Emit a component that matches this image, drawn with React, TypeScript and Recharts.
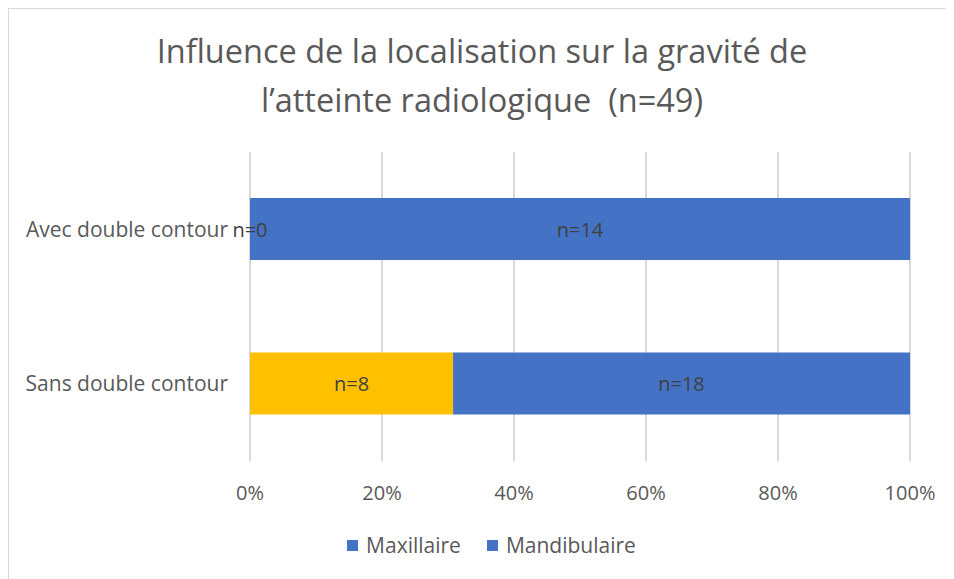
import { BarChart, Bar, XAxis, YAxis, CartesianGrid, Legend, LabelList } from 'recharts';

const categories = ['Avec double contour', 'Sans double contour'];
const maxillaire = [0, 8];
const mandibulaire = [14, 18];
const xTicks = [0, 0.2, 0.4, 0.6, 0.8, 1];

const ORANGE = '#FFC000';
const BLUE = '#4472C4';
const TEXT = '#595959';
const FONT = '"Open Sans", sans-serif';

const data = categories.map((name, i) => ({
  name,
  maxillaire: maxillaire[i],
  mandibulaire: mandibulaire[i],
}));

// la légende d'origine montre les deux carrés en bleu
const legendItems = ['Maxillaire', 'Mandibulaire'];

function ChartLegend() {
  return (
    <div style={{ display: 'flex', justifyContent: 'center', gap: 26, marginLeft: 44, fontFamily: FONT, fontSize: 21, lineHeight: '28px', color: TEXT }}>
      {legendItems.map(label => (
        <div key={label} style={{ display: 'flex', alignItems: 'center', gap: 8 }}>
          <span style={{ width: 11, height: 11, background: BLUE, display: 'inline-block' }} />
          <span>{label}</span>
        </div>
      ))}
    </div>
  );
}

function labelText(x: number, y: number, value: number, key?: string) {
  return (
    <text
      key={key}
      x={x}
      y={y}
      textAnchor="middle"
      dominantBaseline="central"
      fill="#404040"
      fontSize={20}
      fontFamily={FONT}
    >
      {`n=${value}`}
    </text>
  );
}

// étiquette "n=…" centrée sur le segment
function SegmentLabel(props: any) {
  const { x, y, width, height, value } = props;
  if (value === undefined || value === null) return null;
  return labelText(Number(x) + Number(width) / 2, Number(y) + Number(height) / 2, value);
}

// Recharts ne dessine pas les segments de largeur nulle : l'étiquette
// "n=0" du Maxillaire est donc placée au début du segment Mandibulaire
function MandibulaireLabel(props: any) {
  const { x, y, width, height, value, index } = props;
  if (value === undefined || value === null) return null;
  const cy = Number(y) + Number(height) / 2;
  return (
    <g>
      {maxillaire[index] === 0 && labelText(Number(x), cy, maxillaire[index], 'zero')}
      {labelText(Number(x) + Number(width) / 2, cy, value, 'main')}
    </g>
  );
}

export default function App() {
  return (
    <div style={{ position: 'relative', width: 946, height: 571, borderLeft: '1px solid #D9D9D9', borderTop: '1px solid #D9D9D9', background: '#fff' }}>
      <div style={{ position: 'absolute', top: 17, left: 0, width: 946, textAlign: 'center', fontFamily: FONT, fontSize: 32.5, color: TEXT, lineHeight: '49px' }}>
        Influence de la localisation sur la gravité de
        <br />
        l’atteinte radiologique&nbsp;&nbsp;(n=49)
      </div>
      <div style={{ position: 'absolute', top: 0, left: 0 }}>
        <BarChart
          width={946}
          height={571}
          data={data}
          layout="vertical"
          stackOffset="expand"
          barSize={62}
          margin={{ top: 143, right: 45, bottom: 21, left: 20 }}
        >
          <CartesianGrid horizontal={false} stroke="#D9D9D9" strokeWidth={2} />
          <XAxis
            type="number"
            ticks={xTicks}
            domain={[0, 1]}
            tickFormatter={v => `${Math.round(v * 100)}%`}
            axisLine={false}
            tickLine={false}
            tickSize={0}
            tickMargin={25}
            height={40}
            tick={{ fill: TEXT, fontSize: 20, fontFamily: FONT }}
          />
          <YAxis
            type="category"
            dataKey="name"
            width={221}
            axisLine={false}
            tickLine={false}
            tickSize={0}
            tickMargin={22}
            tick={{ fill: TEXT, fontSize: 21, fontFamily: FONT }}
          />
          <Legend verticalAlign="bottom" content={() => <ChartLegend />} wrapperStyle={{ paddingTop: 30 }} />
          <Bar dataKey="maxillaire" name="Maxillaire" stackId="a" fill={ORANGE} isAnimationActive={false}>
            <LabelList dataKey="maxillaire" content={SegmentLabel} />
          </Bar>
          <Bar dataKey="mandibulaire" name="Mandibulaire" stackId="a" fill={BLUE} isAnimationActive={false}>
            <LabelList dataKey="mandibulaire" content={MandibulaireLabel} />
          </Bar>
        </BarChart>
      </div>
    </div>
  );
}
